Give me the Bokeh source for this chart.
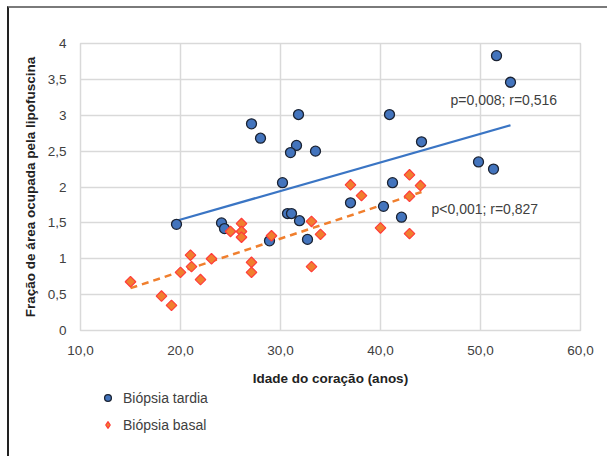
import math
from bokeh.plotting import figure
from bokeh.layouts import column
from bokeh.models import Range1d, FixedTicker, Legend, LegendItem, Label
from bokeh.embed import file_html
from bokeh.resources import INLINE

# Biópsia tardia (blue circles)
tardia_x = [19.6, 24.1, 24.4, 28.9, 30.2, 30.7, 31.1, 31.9, 32.7, 37.0, 40.3, 41.2, 42.1,
            49.8, 51.3, 27.1, 28.0, 31.8, 31.6, 31.0, 33.5, 40.9, 44.1, 51.6, 53.0]
tardia_y = [1.48, 1.50, 1.42, 1.25, 2.06, 1.63, 1.63, 1.53, 1.27, 1.78, 1.73, 2.06, 1.58,
            2.35, 2.25, 2.88, 2.68, 3.01, 2.58, 2.48, 2.50, 3.01, 2.63, 3.83, 3.46]

# Biópsia basal (orange diamonds)
basal_x = [15.0, 18.1, 19.1, 20.0, 21.0, 21.1, 22.0, 23.1, 25.0, 26.1, 26.1, 26.1, 27.1,
           27.1, 29.1, 33.1, 33.1, 34.0, 37.0, 38.1, 40.0, 42.9, 42.9, 42.9, 44.0]
basal_y = [0.68, 0.48, 0.35, 0.81, 1.05, 0.89, 0.71, 1.00, 1.38, 1.49, 1.38, 1.30, 0.95,
           0.81, 1.32, 1.52, 0.89, 1.34, 2.03, 1.88, 1.43, 2.17, 1.87, 1.35, 2.02]

# Trend lines (endpoints as drawn)
tardia_trend_x = [19.6, 53.0]
tardia_trend_y = [1.53, 2.86]
basal_trend_x = [15.0, 44.1]
basal_trend_y = [0.59, 1.93]

x_ticks = [10, 20, 30, 40, 50, 60]
x_tick_labels = ["10,0", "20,0", "30,0", "40,0", "50,0", "60,0"]
y_ticks = [0, 0.5, 1, 1.5, 2, 2.5, 3, 3.5, 4]
y_tick_labels = ["0", "0,5", "1", "1,5", "2", "2,5", "3", "3,5", "4"]

ann_texts = ["p=0,008; r=0,516", "p<0,001; r=0,827"]
ann_x = [47.0, 45.1]
ann_y = [3.21, 1.70]

legend_labels = ["Biópsia tardia", "Biópsia basal"]

FONT = "Liberation Sans"
TXT = "#404040"

CIRCLE = dict(marker="circle", size=10, fill_color="#4374bd", line_color="#1b2333", line_width=1.3)
DIAMOND = dict(marker="square", size=7.5, angle=math.pi / 4, fill_color="#f07f2e",
               line_color="#ff3b3b", line_width=1.2)
LEG_DIAMOND = dict(marker="diamond", size=14, fill_color="#f07f2e",
                   line_color="#ff3b3b", line_width=1.2)

p = figure(frame_width=500, frame_height=287, output_backend="svg", toolbar_location=None,
           x_range=Range1d(10, 60), y_range=Range1d(0, 4),
           min_border_left=71, min_border_right=27, min_border_top=35, min_border_bottom=50)

p.outline_line_color = "#d9d9d9"
p.outline_line_width = 1.5
p.xgrid.grid_line_color = "#d9d9d9"
p.ygrid.grid_line_color = "#d9d9d9"
p.xgrid.grid_line_width = 1.5
p.ygrid.grid_line_width = 1.5

p.xaxis.ticker = FixedTicker(ticks=x_ticks)
p.yaxis.ticker = FixedTicker(ticks=y_ticks)
p.xaxis.major_label_overrides = {t: l for t, l in zip(x_ticks, x_tick_labels)}
p.yaxis.major_label_overrides = {t: l for t, l in zip(y_ticks, y_tick_labels)}
for ax in (p.xaxis, p.yaxis):
    ax.axis_line_color = None
    ax.major_tick_line_color = None
    ax.minor_tick_line_color = None
    ax.major_label_text_font = FONT
    ax.major_label_text_font_size = "13.5px"
    ax.major_label_text_color = TXT
    ax.axis_label_text_font = FONT
    ax.axis_label_text_font_size = "13.5px"
    ax.axis_label_text_font_style = "bold"
    ax.axis_label_text_color = "#222222"
p.xaxis.major_label_standoff = 9
p.yaxis.major_label_standoff = 8
p.xaxis.axis_label = "Idade do coração (anos)"
p.yaxis.axis_label = "Fração de área ocupada pela lipofuscina"
p.xaxis.axis_label_standoff = 13
p.yaxis.axis_label_standoff = 7

p.line(tardia_trend_x, tardia_trend_y, line_color="#3a75c4", line_width=2.2)
p.line(basal_trend_x, basal_trend_y, line_color="#f07f2e", line_width=2.5, line_dash="7 5")
p.scatter(tardia_x, tardia_y, **CIRCLE)
p.scatter(basal_x, basal_y, **DIAMOND)

for t, x, y in zip(ann_texts, ann_x, ann_y):
    p.add_layout(Label(x=x, y=y, text=t, text_font=FONT, text_font_size="14px",
                       text_color=TXT, text_baseline="middle", text_align="left"))

# Legend panel below the chart (its glyph renderers sit outside the visible range)
pl = figure(width=598, height=69, output_backend="svg", toolbar_location=None,
            x_range=Range1d(0, 1), y_range=Range1d(0, 1),
            x_axis_type=None, y_axis_type=None,
            min_border_left=71, min_border_right=27, min_border_top=0, min_border_bottom=0)
pl.outline_line_color = None
lt = pl.scatter(tardia_x[:1], tardia_y[:1], **CIRCLE)
lb = pl.scatter(basal_x[:1], basal_y[:1], **LEG_DIAMOND)
lg = Legend(items=[LegendItem(label=legend_labels[0], renderers=[lt]),
                   LegendItem(label=legend_labels[1], renderers=[lb])],
            location=(19, 24), orientation="vertical",
            label_text_font=FONT, label_text_font_size="14px", label_text_color=TXT,
            border_line_color=None, background_fill_alpha=0,
            glyph_width=17, glyph_height=17, spacing=10, padding=5, margin=0,
            label_standoff=7)
pl.add_layout(lg)

layout = column(p, pl, spacing=0)
layout.styles = {"border-top": "2px solid #7a7a7a", "border-left": "2px solid #222222",
                 "margin-top": "6px", "margin-left": "7px"}

open("out.html", "w").write(file_html(layout, INLINE))
